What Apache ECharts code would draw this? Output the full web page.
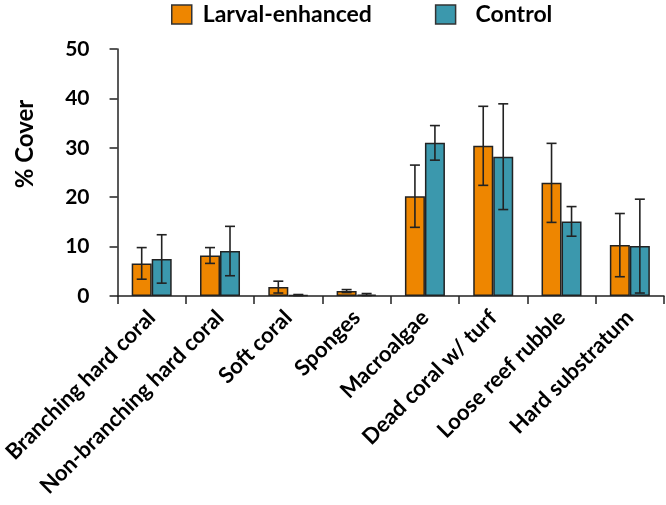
<!DOCTYPE html>
<html>
<head>
<meta charset="utf-8">
<script src="https://cdn.jsdelivr.net/npm/echarts@6/dist/echarts.min.js"></script>
<style>
  html, body { margin: 0; padding: 0; background: #fff; }
  #main { width: 666px; height: 505px; }
</style>
</head>
<body>
<div id="main"></div>
<script>
var categories = ['Branching hard coral', 'Non-branching hard coral', 'Soft coral', 'Sponges',
                  'Macroalgae', 'Dead coral w/ turf', 'Loose reef rubble', 'Hard substratum'];
var larvalData = [6.6, 8.2, 1.8, 1.0, 20.2, 30.4, 22.9, 10.3];   // Larval-enhanced mean
var larvalErr  = [3.2, 1.6, 1.2, 0.3, 6.3, 8.0, 8.0, 6.4];
var controlData = [7.5, 9.1, 0.2, 0.3, 31.0, 28.2, 15.1, 10.1];  // Control mean
var controlErr  = [4.9, 5.0, 0.1, 0.2, 3.5, 10.7, 3.0, 9.5];
var yTicks = [0, 10, 20, 30, 40, 50];

var ORANGE = '#EE8600';
var TEAL = '#3B98AD';
var FONT = 'Lato';
var BAR_W = 20;

// error bar: offset = -1 for left bar, +1 for right bar
function errSeries(means, errs, offset) {
    var d = means.map(function (m, i) { return [i, m - errs[i], m + errs[i]]; });
    return {
        type: 'custom',
        silent: true,
        z: 10,
        data: d,
        renderItem: function (params, api) {
            var lo = api.coord([api.value(0), Math.max(0, api.value(1))]);
            var hi = api.coord([api.value(0), api.value(2)]);
            var x = lo[0] + offset * BAR_W / 2;
            var cap = 5;
            var st = { stroke: '#222', lineWidth: 1.6 };
            return {
                type: 'group',
                children: [
                    { type: 'line', shape: { x1: x, y1: lo[1], x2: x, y2: hi[1] }, style: st },
                    { type: 'line', shape: { x1: x - cap, y1: hi[1], x2: x + cap, y2: hi[1] }, style: st },
                    { type: 'line', shape: { x1: x - cap, y1: lo[1], x2: x + cap, y2: lo[1] }, style: st }
                ]
            };
        }
    };
}

var chart = echarts.init(document.getElementById('main'));
var option = {
    backgroundColor: '#fff',
    animation: false,
    legend: {
        left: 171,
        top: 3,
        padding: 0,
        icon: 'rect',
        itemWidth: 20,
        itemHeight: 19,
        itemGap: 63,
        textStyle: { fontFamily: FONT, fontWeight: 'bold', fontSize: 23, color: '#000', padding: [0, 0, 0, 6] },
        data: [
            { name: 'Larval-enhanced', itemStyle: { borderColor: '#333', borderWidth: 1.5 } },
            { name: 'Control', itemStyle: { borderColor: '#333', borderWidth: 1.5 },
              textStyle: { padding: [0, 0, 0, 15] } }
        ]
    },
    grid: { left: 113, right: 2, top: 49, bottom: 209, containLabel: false },
    xAxis: {
        type: 'category',
        data: categories,
        axisLine: { lineStyle: { color: '#222', width: 1.5 } },
        axisTick: { show: true, length: 8, lineStyle: { color: '#222', width: 1.5 } },
        axisLabel: {
            rotate: 45,
            interval: 0,
            margin: 18,
            fontFamily: FONT,
            fontWeight: 'bold',
            fontSize: 22,
            color: '#000'
        }
    },
    yAxis: {
        type: 'value',
        min: yTicks[0],
        max: yTicks[yTicks.length - 1],
        interval: 10,
        splitLine: { show: false },
        axisLine: { show: true, lineStyle: { color: '#222', width: 1.5 } },
        axisTick: { show: true, length: 8, lineStyle: { color: '#222', width: 1.5 } },
        axisLabel: { fontFamily: FONT, fontWeight: 'bold', fontSize: 21, color: '#000', margin: 28 }
    },
    graphic: [{
        type: 'text',
        x: 25,
        y: 144,
        rotation: Math.PI / 2,
        style: {
            text: '% Cover',
            fontFamily: FONT,
            fontWeight: 'bold',
            fontSize: 24,
            fill: '#000',
            align: 'center',
            verticalAlign: 'middle'
        }
    }],
    series: [
        {
            name: 'Larval-enhanced',
            type: 'bar',
            barWidth: BAR_W,
            barGap: '0%',
            data: larvalData,
            itemStyle: { color: ORANGE, borderColor: '#222', borderWidth: 1.5 }
        },
        {
            name: 'Control',
            type: 'bar',
            barWidth: BAR_W,
            barGap: '0%',
            data: controlData,
            itemStyle: { color: TEAL, borderColor: '#222', borderWidth: 1.5 }
        },
        errSeries(larvalData, larvalErr, -1),
        errSeries(controlData, controlErr, 1)
    ]
};
chart.setOption(option);
</script>
</body>
</html>
